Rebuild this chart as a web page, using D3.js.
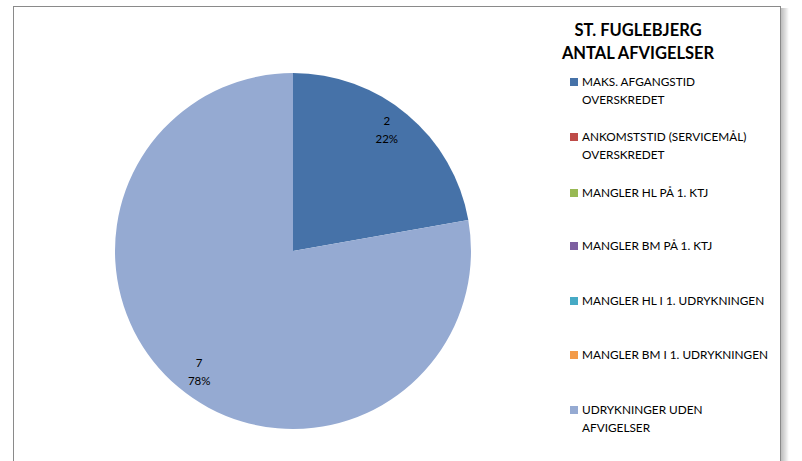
<!DOCTYPE html>
<html><head><meta charset="utf-8">
<script src="https://cdn.jsdelivr.net/npm/d3@7"></script>
<style>body{margin:0;background:#fff;}svg{display:block;}</style>
</head><body>
<svg id="c" width="802" height="461"></svg>
<script>
const titleLines = ["ST. FUGLEBJERG", "ANTAL AFVIGELSER"];
const categories = [
  ["MAKS. AFGANGSTID", "OVERSKREDET"],
  ["ANKOMSTSTID (SERVICEMÅL)", "OVERSKREDET"],
  ["MANGLER HL PÅ 1. KTJ"],
  ["MANGLER BM PÅ 1. KTJ"],
  ["MANGLER HL I 1. UDRYKNINGEN"],
  ["MANGLER BM I 1. UDRYKNINGEN"],
  ["UDRYKNINGER UDEN", "AFVIGELSER"]
];
const values = [2, 0, 0, 0, 0, 0, 7];
const colors = ["#4672A8", "#BE4B48", "#98B954", "#7D5FA0", "#46AAC5", "#F39B49", "#95AAD2"];

const svg = d3.select("#c");
const font = "Lato, 'Open Sans', sans-serif";

// frame + shadow
for (let i = 0; i < 8; i++) {
  svg.append("line").attr("x1", 781 + i).attr("x2", 781 + i).attr("y1", 8).attr("y2", 470)
    .attr("stroke", "#000").attr("stroke-opacity", 0.28 * (1 - i / 8));
}
svg.append("rect").attr("x", 13.5).attr("y", 6.5).attr("width", 767).attr("height", 470)
  .attr("fill", "#fff").attr("stroke", "#8a8a8a").attr("stroke-width", 1);

// pie
const cx = 293, cy = 251, r = 178;
const total = d3.sum(values);
const pie = d3.pie().sort(null).value(d => d)(values);
const arc = d3.arc().innerRadius(0).outerRadius(r);
const g = svg.append("g").attr("transform", `translate(${cx},${cy})`);
g.selectAll("path").data(pie.filter(d => d.value > 0)).join("path")
  .attr("d", arc).attr("fill", d => colors[d.index]);
pie.filter(d => d.value > 0).forEach(d => {
  const a = (d.startAngle + d.endAngle) / 2 - 2.2 * Math.PI / 180;
  const x = Math.sin(a) * r * 0.86, y = -Math.cos(a) * r * 0.86;
  const t = g.append("text").attr("text-anchor", "middle").attr("font-family", font)
    .attr("font-size", 11.5).attr("fill", "#000");
  t.append("tspan").attr("x", x).attr("y", y - 5).text(d.value);
  t.append("tspan").attr("x", x).attr("y", y + 13).text(Math.round(d.value / total * 100) + "%");
});

// title
svg.append("text").attr("text-anchor", "middle").attr("font-family", font)
  .attr("font-weight", "bold").attr("font-size", 16.5).attr("fill", "#000")
  .selectAll("tspan").data(titleLines).join("tspan")
  .attr("x", 638).attr("y", (d, i) => 36 + i * 23).text(d => d);

// legend
const legendY = [82, 137, 193, 246, 301, 355, 410];
const lg = svg.append("g");
categories.forEach((lines, i) => {
  lg.append("rect").attr("x", 570).attr("y", legendY[i] - 4).attr("width", 8).attr("height", 8)
    .attr("fill", colors[i]);
  const t = lg.append("text").attr("font-family", font).attr("font-size", 11.8).attr("fill", "#000");
  lines.forEach((l, j) => {
    t.append("tspan").attr("x", 582).attr("y", legendY[i] + 4 + j * 17.5).text(l);
  });
});
</script>
</body></html>
